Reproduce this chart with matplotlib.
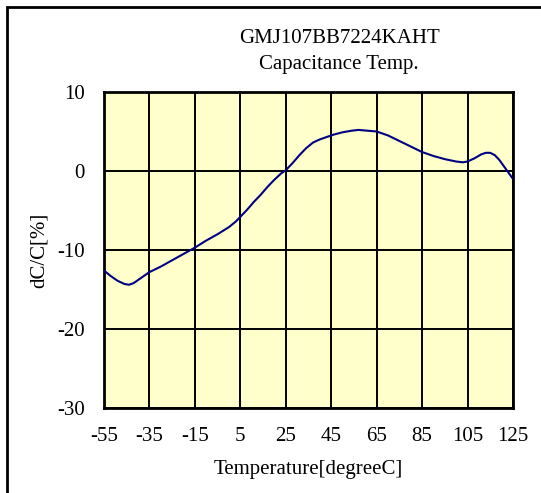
import numpy as np
import matplotlib.pyplot as plt
from matplotlib.patches import Rectangle

plt.rcParams['font.family'] = ['Liberation Serif', 'DejaVu Serif']
plt.rcParams['axes.unicode_minus'] = False

# curve
temp = [-55, -52, -49, -46, -44, -42, -39, -35, -30, -25, -20, -15, -10, -5,
        0, 3, 5, 8, 11, 14, 17, 20, 23, 25, 28, 31, 34, 37, 40, 43, 46, 50,
        54, 57, 61, 65, 70, 75, 80, 85, 90, 95, 100, 103, 105, 108, 111,
        113, 115, 117, 119, 121, 123, 125]
dcc = [-12.6, -13.3, -13.9, -14.3, -14.4, -14.2, -13.6, -12.8, -12.1, -11.3,
       -10.5, -9.7, -8.8, -8.0, -7.1, -6.4, -5.8, -4.9, -3.9, -3.0, -2.0, -1.1,
       -0.3, 0.1, 1.0, 2.0, 2.9, 3.6, 4.0, 4.3, 4.6, 4.9, 5.1, 5.2, 5.1, 5.0,
       4.5, 3.8, 3.1, 2.4, 1.9, 1.5, 1.2, 1.1, 1.2, 1.6, 2.1, 2.3, 2.3, 2.0,
       1.4, 0.6, -0.2, -1.0]

xticks = [-55, -35, -15, 5, 25, 45, 65, 85, 105, 125]
yticks = [-30, -20, -10, 0, 10]

fig = plt.figure(figsize=(5.41, 4.93), dpi=100)
ax = fig.add_axes([0.1922, 0.1724, 0.756, 0.641])
ax.set_facecolor('#FFFFCC')

ax.plot(temp, dcc, color='#000080', lw=1.5, zorder=3)

ax.set_xlim(-55, 125)
ax.set_ylim(-30, 10)
ax.set_xticks(xticks)
ax.set_yticks(yticks)
ax.grid(True, color='black', lw=1.4, zorder=1)
ax.set_axisbelow(True)
for s in ax.spines.values():
    s.set_linewidth(2)
ax.tick_params(axis='x', length=0, pad=14, labelsize=15)
ax.tick_params(axis='y', length=0, pad=14, labelsize=15)

ax.set_xlabel('Temperature[degreeC]', fontsize=15, labelpad=10)
ax.set_ylabel('dC/C[%]', fontsize=15, labelpad=6)

fig.text(0.627, 0.921, 'GMJ107BB7224KAHT', ha='center', va='center', fontsize=15)
fig.text(0.627, 0.870, 'Capacitance Temp.', ha='center', va='center', fontsize=15)

fig.patches.append(Rectangle((7 / 541, -0.1), 1.2, 1.1 - 7 / 493,
                             transform=fig.transFigure, fill=False,
                             edgecolor='black', lw=2))

fig.savefig('out.png', dpi=100)
